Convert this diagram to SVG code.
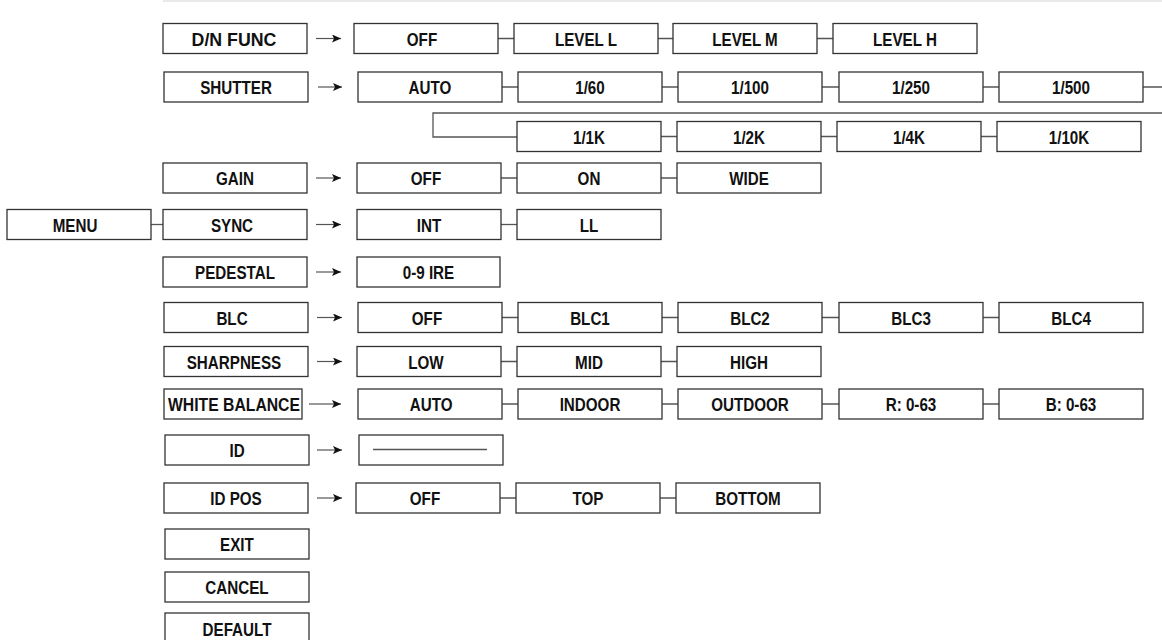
<svg xmlns="http://www.w3.org/2000/svg" width="1162" height="640" viewBox="0 0 1162 640">
<style>
.b{fill:#fff;stroke:#333;stroke-width:1.3}
.t{font-family:"Liberation Sans",Arial,sans-serif;font-size:19px;font-weight:bold;text-anchor:middle;fill:#111}
.c{stroke:#555;stroke-width:1.3;fill:none}
.a{stroke:#555;stroke-width:1.2;fill:none;marker-end:url(#ah)}
</style>
<defs>
<marker id="ah" markerUnits="userSpaceOnUse" markerWidth="10" markerHeight="8" refX="9" refY="4" orient="auto">
<path d="M0,0 L9,4 L0,8 L2,4 z" fill="#111"/>
</marker>
</defs>
<rect width="1162" height="640" fill="#fff"/>
<line x1="163" y1="1" x2="1162" y2="1" stroke="#e2e2e2" stroke-width="1.5"/>

<g id="connectors">
<line class="c" x1="151" y1="224.5" x2="163" y2="224.5"/>
<line class="a" x1="316" y1="38.5" x2="341" y2="38.5"/>
<line class="a" x1="318" y1="87" x2="342" y2="87"/>
<line class="a" x1="316" y1="178" x2="341" y2="178"/>
<line class="a" x1="316" y1="224.5" x2="341" y2="224.5"/>
<line class="a" x1="316" y1="272" x2="341" y2="272"/>
<line class="a" x1="317" y1="317.5" x2="342" y2="317.5"/>
<line class="a" x1="317" y1="361.5" x2="342" y2="361.5"/>
<line class="a" x1="309" y1="404" x2="341" y2="404"/>
<line class="a" x1="317" y1="450" x2="342" y2="450"/>
<line class="a" x1="317" y1="498" x2="342" y2="498"/>
<path class="c" d="M498,38.5H514M658,38.5H673M817,38.5H833"/>
<path class="c" d="M502,87H518M662,87H678M822,87H839M983,87H999M1143,87H1162"/>
<path class="c" d="M1162,113H433V137H517M661,136.5H677M821,136.5H837M981,136.5H997"/>
<path class="c" d="M501,178H517M661,178H677"/>
<path class="c" d="M501,224.5H517"/>
<path class="c" d="M502,317.5H518M662,317.5H678M822,317.5H839M983,317.5H999"/>
<path class="c" d="M501,361.5H517M661,361.5H677"/>
<path class="c" d="M502,404H518M662,404H678M822,404H839M983,404H999"/>
<path class="c" d="M500,498H516M660,498H676"/>
</g>

<g id="menu"><rect class="b" x="7" y="209.5" width="144" height="30"/><text class="t" transform="scale(0.8,1)" x="93.75" y="232">MENU</text></g>

<g id="dn-func"><rect class="b" x="163" y="23.5" width="144" height="30"/><text class="t" transform="scale(0.8,1)" x="292.5" y="46" textLength="106" lengthAdjust="spacingAndGlyphs">D/N FUNC</text></g>
<g id="dn-off"><rect class="b" x="354" y="23.5" width="144" height="30"/><text class="t" transform="scale(0.8,1)" x="527.5" y="46">OFF</text></g>
<g id="dn-levell"><rect class="b" x="514" y="23.5" width="144" height="30"/><text class="t" transform="scale(0.8,1)" x="732.5" y="46">LEVEL L</text></g>
<g id="dn-levelm"><rect class="b" x="673" y="23.5" width="144" height="30"/><text class="t" transform="scale(0.8,1)" x="931.25" y="46">LEVEL M</text></g>
<g id="dn-levelh"><rect class="b" x="833" y="23.5" width="144" height="30"/><text class="t" transform="scale(0.8,1)" x="1131.25" y="46">LEVEL H</text></g>

<g id="shutter"><rect class="b" x="164" y="72" width="144" height="30"/><text class="t" transform="scale(0.8,1)" x="295" y="94.5">SHUTTER</text></g>
<g id="sh-auto"><rect class="b" x="358" y="72" width="144" height="30"/><text class="t" transform="scale(0.8,1)" x="537.5" y="94.5">AUTO</text></g>
<g id="sh-60"><rect class="b" x="518" y="72" width="144" height="30"/><text class="t" transform="scale(0.8,1)" x="737.5" y="94.5">1/60</text></g>
<g id="sh-100"><rect class="b" x="678" y="72" width="144" height="30"/><text class="t" transform="scale(0.8,1)" x="937.5" y="94.5">1/100</text></g>
<g id="sh-250"><rect class="b" x="839" y="72" width="144" height="30"/><text class="t" transform="scale(0.8,1)" x="1138.75" y="94.5">1/250</text></g>
<g id="sh-500"><rect class="b" x="999" y="72" width="144" height="30"/><text class="t" transform="scale(0.8,1)" x="1338.75" y="94.5">1/500</text></g>
<g id="sh-1k"><rect class="b" x="517" y="121.5" width="144" height="30"/><text class="t" transform="scale(0.8,1)" x="736.25" y="144">1/1K</text></g>
<g id="sh-2k"><rect class="b" x="677" y="121.5" width="144" height="30"/><text class="t" transform="scale(0.8,1)" x="936.25" y="144">1/2K</text></g>
<g id="sh-4k"><rect class="b" x="837" y="121.5" width="144" height="30"/><text class="t" transform="scale(0.8,1)" x="1136.25" y="144">1/4K</text></g>
<g id="sh-10k"><rect class="b" x="997" y="121.5" width="144" height="30"/><text class="t" transform="scale(0.8,1)" x="1336.25" y="144">1/10K</text></g>

<g id="gain"><rect class="b" x="163" y="163" width="144" height="30"/><text class="t" transform="scale(0.8,1)" x="293.75" y="185.5">GAIN</text></g>
<g id="gain-off"><rect class="b" x="357" y="163" width="144" height="30"/><text class="t" transform="scale(0.8,1)" x="532.5" y="185.5">OFF</text></g>
<g id="gain-on"><rect class="b" x="517" y="163" width="144" height="30"/><text class="t" transform="scale(0.8,1)" x="736.25" y="185.5">ON</text></g>
<g id="gain-wide"><rect class="b" x="677" y="163" width="144" height="30"/><text class="t" transform="scale(0.8,1)" x="936.25" y="185.5">WIDE</text></g>

<g id="sync"><rect class="b" x="163" y="209.5" width="144" height="30"/><text class="t" transform="scale(0.8,1)" x="290" y="232">SYNC</text></g>
<g id="sync-int"><rect class="b" x="357" y="209.5" width="144" height="30"/><text class="t" transform="scale(0.8,1)" x="536.25" y="232">INT</text></g>
<g id="sync-ll"><rect class="b" x="517" y="209.5" width="144" height="30"/><text class="t" transform="scale(0.8,1)" x="736.25" y="232">LL</text></g>

<g id="pedestal"><rect class="b" x="163" y="257" width="144" height="30"/><text class="t" transform="scale(0.8,1)" x="293.75" y="279.5">PEDESTAL</text></g>
<g id="ped-val"><rect class="b" x="357" y="257" width="143" height="30"/><text class="t" transform="scale(0.8,1)" x="535.6" y="279.5">0-9 IRE</text></g>

<g id="blc"><rect class="b" x="164" y="302.5" width="144" height="30"/><text class="t" transform="scale(0.8,1)" x="290" y="325">BLC</text></g>
<g id="blc-off"><rect class="b" x="358" y="302.5" width="144" height="30"/><text class="t" transform="scale(0.8,1)" x="533.75" y="325">OFF</text></g>
<g id="blc1"><rect class="b" x="518" y="302.5" width="144" height="30"/><text class="t" transform="scale(0.8,1)" x="737.5" y="325">BLC1</text></g>
<g id="blc2"><rect class="b" x="678" y="302.5" width="144" height="30"/><text class="t" transform="scale(0.8,1)" x="937.5" y="325">BLC2</text></g>
<g id="blc3"><rect class="b" x="839" y="302.5" width="144" height="30"/><text class="t" transform="scale(0.8,1)" x="1138.75" y="325">BLC3</text></g>
<g id="blc4"><rect class="b" x="999" y="302.5" width="144" height="30"/><text class="t" transform="scale(0.8,1)" x="1338.75" y="325">BLC4</text></g>

<g id="sharpness"><rect class="b" x="164" y="346.5" width="144" height="30"/><text class="t" transform="scale(0.8,1)" x="292.5" y="369">SHARPNESS</text></g>
<g id="sh-low"><rect class="b" x="357" y="346.5" width="144" height="30"/><text class="t" transform="scale(0.8,1)" x="532.5" y="369">LOW</text></g>
<g id="sh-mid"><rect class="b" x="517" y="346.5" width="144" height="30"/><text class="t" transform="scale(0.8,1)" x="736.25" y="369">MID</text></g>
<g id="sh-high"><rect class="b" x="677" y="346.5" width="144" height="30"/><text class="t" transform="scale(0.8,1)" x="936.25" y="369">HIGH</text></g>

<g id="white-balance"><rect class="b" x="164" y="389" width="138" height="30"/><text class="t" transform="scale(0.8,1)" x="292.5" y="411.5" textLength="165" lengthAdjust="spacingAndGlyphs">WHITE BALANCE</text></g>
<g id="wb-auto"><rect class="b" x="358" y="389" width="144" height="30"/><text class="t" transform="scale(0.8,1)" x="539" y="411.5">AUTO</text></g>
<g id="wb-indoor"><rect class="b" x="518" y="389" width="144" height="30"/><text class="t" transform="scale(0.8,1)" x="737.5" y="411.5">INDOOR</text></g>
<g id="wb-outdoor"><rect class="b" x="678" y="389" width="144" height="30"/><text class="t" transform="scale(0.8,1)" x="937.5" y="411.5">OUTDOOR</text></g>
<g id="wb-r"><rect class="b" x="839" y="389" width="144" height="30"/><text class="t" transform="scale(0.8,1)" x="1138.75" y="411.5">R: 0-63</text></g>
<g id="wb-b"><rect class="b" x="999" y="389" width="144" height="30"/><text class="t" transform="scale(0.8,1)" x="1338.75" y="411.5">B: 0-63</text></g>

<g id="id"><rect class="b" x="165" y="435" width="144" height="30"/><text class="t" transform="scale(0.8,1)" x="296.25" y="457.5">ID</text></g>
<g id="id-val"><rect class="b" x="359" y="435" width="144" height="30"/><line x1="373" y1="449.5" x2="487" y2="449.5" stroke="#555" stroke-width="1.3"/></g>

<g id="id-pos"><rect class="b" x="164" y="483" width="144" height="30"/><text class="t" transform="scale(0.8,1)" x="295" y="505.5">ID POS</text></g>
<g id="idpos-off"><rect class="b" x="356" y="483" width="144" height="30"/><text class="t" transform="scale(0.8,1)" x="531.25" y="505.5">OFF</text></g>
<g id="idpos-top"><rect class="b" x="516" y="483" width="144" height="30"/><text class="t" transform="scale(0.8,1)" x="735" y="505.5">TOP</text></g>
<g id="idpos-bottom"><rect class="b" x="676" y="483" width="144" height="30"/><text class="t" transform="scale(0.8,1)" x="935" y="505.5">BOTTOM</text></g>

<g id="exit"><rect class="b" x="165" y="529" width="144" height="30"/><text class="t" transform="scale(0.8,1)" x="296.25" y="551.5">EXIT</text></g>
<g id="cancel"><rect class="b" x="165" y="572" width="144" height="30"/><text class="t" transform="scale(0.8,1)" x="296.25" y="594.5">CANCEL</text></g>
<g id="default"><rect class="b" x="165" y="613" width="144" height="32"/><text class="t" transform="scale(0.8,1)" x="296.25" y="636">DEFAULT</text></g>
</svg>
